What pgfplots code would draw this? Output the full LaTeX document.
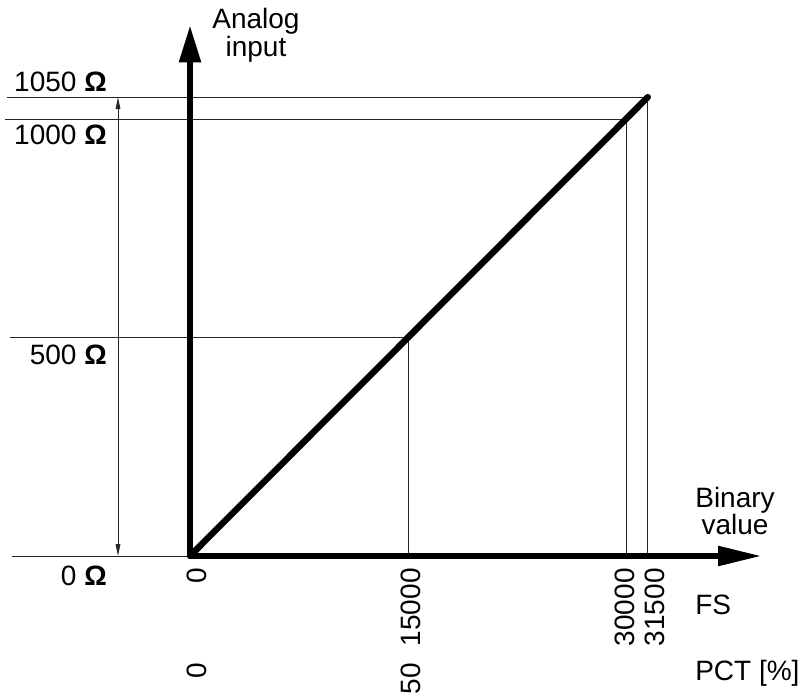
\documentclass[border=0pt]{standalone}
\usepackage{fontspec}
\setmainfont{Liberation Sans}
\usepackage{pgfplots}
\pgfplotsset{compat=1.18}
\usetikzlibrary{arrows.meta}
\tikzset{lbl/.style={font=\fontsize{21}{24}\selectfont}}
\begin{document}
\begin{tikzpicture}
\begin{axis}[
  hide axis, scale only axis, clip=false,
  width=602.25pt, height=522.75pt,
  xmin=-13073, xmax=42179, ymin=-322.65, ymax=1272.3,
]
% bounding frame (invisible)
\addplot[draw=none, forget plot] coordinates {(-13073,-322.65) (42179,1272.3)};
% thin guide lines
\addplot[black!85, line width=0.7pt] coordinates {(-12592,1050) (31500,1050) (31500,0)};
\addplot[black!85, line width=0.7pt] coordinates {(-12729,1000) (30000,1000) (30000,0)};
\addplot[black!85, line width=0.7pt] coordinates {(-12385,500) (15000,500) (15000,0)};
\addplot[black!85, line width=0.7pt] coordinates {(-12248,0) (0,0)};
% dimension arrow
\addplot[black!85, line width=0.7pt, {Triangle[length=9pt,width=3.5pt]}-{Triangle[length=9pt,width=3.5pt]}] coordinates {(-4954,1050) (-4954,0)};
% axes
\addplot[black, line width=4.8pt, -{Triangle[length=28pt,width=15.5pt]}] coordinates {(0,0) (0,1215)};
\addplot[black, line width=4.8pt, -{Triangle[length=33pt,width=14pt]}] coordinates {(0,0) (39358,0)};
% characteristic
\addplot[black, line width=4.8pt, line cap=round] coordinates {(0,0) (31500,1050)};
% y labels
\node[lbl, anchor=base east, inner sep=0] at (axis cs:-5711,1061.8) {1050 \textbf{Ω}};
\node[lbl, anchor=base east, inner sep=0] at (axis cs:-5711,940.5) {1000 \textbf{Ω}};
\node[lbl, anchor=base east, inner sep=0] at (axis cs:-5711,437.1) {500 \textbf{Ω}};
\node[lbl, anchor=base east, inner sep=0] at (axis cs:-5711,-66.4) {0 \textbf{Ω}};
% axis titles
\node[lbl, anchor=base, inner sep=0] at (axis cs:4541,1206) {Analog};
\node[lbl, anchor=base, inner sep=0] at (axis cs:4541,1142) {input};
\node[lbl, anchor=base, inner sep=0] at (axis cs:37500,112.1) {Binary};
\node[lbl, anchor=base, inner sep=0] at (axis cs:37500,48.1) {value};
\node[lbl, anchor=base west, inner sep=0] at (axis cs:34748,-135) {FS};
\node[lbl, anchor=base west, inner sep=0] at (axis cs:34748,-283.8) {PCT [\%]};
% rotated tick labels
\node[lbl, rotate=90, anchor=east, inner sep=0] at (axis cs:482,-27.5) {0};
\node[lbl, rotate=90, anchor=east, inner sep=0] at (axis cs:15206,-27.5) {15000};
\node[lbl, rotate=90, anchor=east, inner sep=0] at (axis cs:29931,-27.5) {30000};
\node[lbl, rotate=90, anchor=east, inner sep=0] at (axis cs:31995,-27.5) {31500};
\node[lbl, rotate=90, anchor=east, inner sep=0] at (axis cs:482,-244.9) {0};
\node[lbl, rotate=90, anchor=east, inner sep=0] at (axis cs:15206,-244.9) {50};
\end{axis}
\end{tikzpicture}
\end{document}
